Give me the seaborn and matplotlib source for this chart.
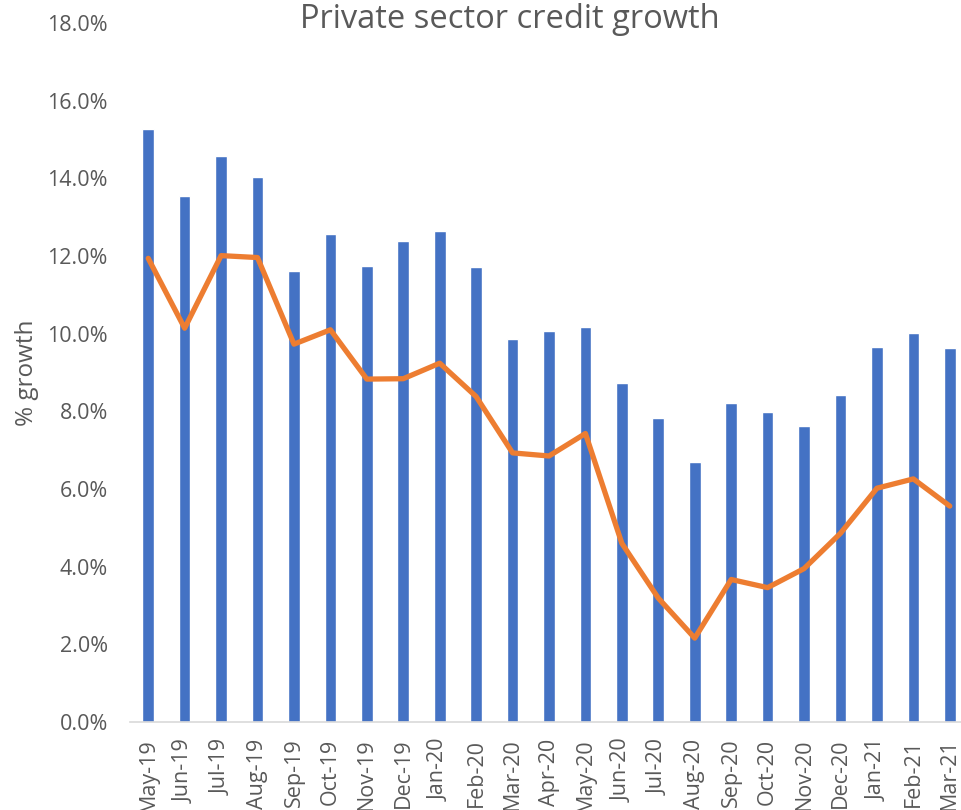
import numpy as np
import pandas as pd
import matplotlib
matplotlib.use("Agg")
import matplotlib.pyplot as plt
import seaborn as sns
from matplotlib.ticker import PercentFormatter

# Data (percent)
months = ['May-19', 'Jun-19', 'Jul-19', 'Aug-19', 'Sep-19', 'Oct-19', 'Nov-19', 'Dec-19',
          'Jan-20', 'Feb-20', 'Mar-20', 'Apr-20', 'May-20', 'Jun-20', 'Jul-20', 'Aug-20',
          'Sep-20', 'Oct-20', 'Nov-20', 'Dec-20', 'Jan-21', 'Feb-21', 'Mar-21']
bar_growth = [15.26, 13.54, 14.58, 14.04, 11.62, 12.56, 11.74, 12.38,
              12.64, 11.72, 9.86, 10.06, 10.17, 8.72, 7.83, 6.69,
              8.21, 7.98, 7.63, 8.41, 9.65, 10.03, 9.63]
line_growth = [11.94, 10.14, 12.01, 11.96, 9.73, 10.10, 8.83, 8.84,
               9.24, 8.38, 6.93, 6.85, 7.43, 4.60, 3.19, 2.16,
               3.67, 3.46, 3.95, 4.86, 6.02, 6.26, 5.56]
y_ticks = [0, 2, 4, 6, 8, 10, 12, 14, 16, 18]

sns.set_theme(style="white")
plt.rcParams['font.family'] = ['Open Sans', 'DejaVu Sans']

grey = '#595959'
df = pd.DataFrame({'month': months, 'bar': bar_growth, 'line': line_growth})

fig = plt.figure(figsize=(9.61, 8.10), dpi=100)
ax = fig.add_axes([130 / 961, 88 / 810, 838 / 961, 699 / 810])

sns.barplot(data=df, x='month', y='bar', color='#4472C4', width=0.32,
            saturation=1, ax=ax)
sns.lineplot(x=np.arange(len(months)), y=df['line'], color='#ED7D31',
             linewidth=3.8, ax=ax)

ax.set_xlim(-0.5, len(months) - 0.5)
ax.set_ylim(0, 18)
ax.set_yticks(y_ticks)
ax.yaxis.set_major_formatter(PercentFormatter(decimals=1))
ax.set_xticks(range(len(months)))
ax.set_xticklabels(months, rotation=90)
ax.tick_params(axis='both', colors=grey, labelsize=15.5, length=0)
ax.tick_params(axis='y', pad=16)
ax.tick_params(axis='x', pad=12)

for side in ['top', 'right', 'left']:
    ax.spines[side].set_visible(False)
ax.spines['bottom'].set_color('#D9D9D9')
ax.spines['bottom'].set_linewidth(1.2)
ax.grid(False)

ax.set_xlabel('')
ax.set_ylabel('% growth', color=grey, fontsize=17.5)
ax.yaxis.set_label_coords(-0.108, 0.5)

fig.text(510 / 961, 1 - 20 / 810, 'Private sector credit growth', ha='center',
         va='center', fontsize=23.5, color=grey)

fig.savefig('out.png', dpi=100)
